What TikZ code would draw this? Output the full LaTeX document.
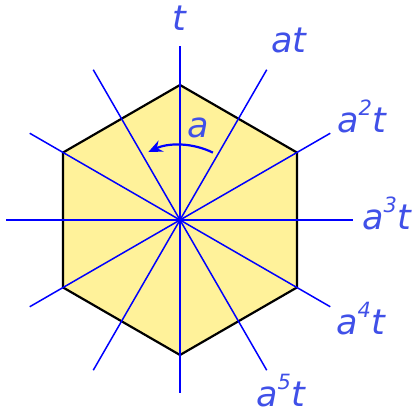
\documentclass[tikz,border=0pt]{standalone}
\usepackage{fontspec}
\newfontfamily\lblfont{DejaVu Sans}
\usetikzlibrary{arrows.meta}
\definecolor{lblblue}{RGB}{64,80,232}
\definecolor{hexfill}{RGB}{255,242,154}
\newcommand{\sq}[1]{\raisebox{0.5em}{\fontsize{21}{21}\selectfont #1}}
\tikzset{
  axisline/.style={draw=blue, line width=1.5pt},
  hexline/.style={draw=black, line width=2.2pt, fill=hexfill, line join=miter},
  lbl/.style={text=lblblue, font=\lblfont\itshape\fontsize{35}{36}\selectfont, inner sep=0pt, anchor=base west},
  rotarrow/.style={draw=blue, line width=2.2pt, -{Stealth[length=14pt,width=12pt]}}
}
\begin{document}
\begin{tikzpicture}[x=1pt,y=1pt]
\useasboundingbox (-180,-191) rectangle (236,220);
\coordinate (O) at (0,0);
\foreach \k in {0,...,5} {\coordinate (v\k) at ({90+60*\k}:135);}
\path[hexline] (v0) -- (v1) -- (v2) -- (v3) -- (v4) -- (v5) -- cycle;
\foreach \k in {0,...,11} {
  \coordinate (e\k) at ({30*\k}:173.5);
  \path[axisline] (O) -- (e\k);
}
\coordinate (arcstart) at (64:75);
\path[rotarrow] (arcstart) arc[start angle=64, end angle=115, radius=75] coordinate (arcend);
\node[lbl] (la) at (7,82) {a};
\node[lbl] (l0) at (-8,189) {t};
\node[lbl] (l1) at (91,167) {at};
\node[lbl] (l2) at (157,87) {a\sq{2}t};
\node[lbl] (l3) at (182,-10) {a\sq{3}t};
\node[lbl] (l4) at (156,-115) {a\sq{4}t};
\node[lbl] (l5) at (76,-187) {a\sq{5}t};
\end{tikzpicture}
\end{document}
